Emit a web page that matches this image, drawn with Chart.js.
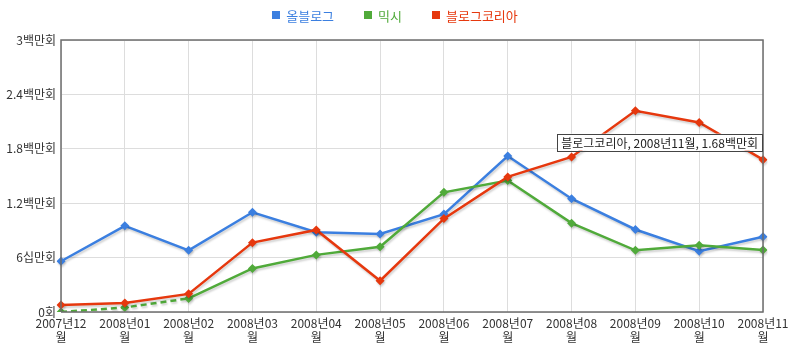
<!DOCTYPE html>
<html>
<head>
<meta charset="utf-8">
<script src="https://cdn.jsdelivr.net/npm/chart.js@4/dist/chart.umd.min.js"></script>
<style>
html,body{margin:0;padding:0;background:#fff;}
#wrap{width:790px;height:351px;position:relative;}
</style>
</head>
<body>
<div id="wrap"><canvas id="c" width="790" height="351"></canvas></div>
<script>
const categories = [
  ['2007년12','월'],['2008년01','월'],['2008년02','월'],['2008년03','월'],
  ['2008년04','월'],['2008년05','월'],['2008년06','월'],['2008년07','월'],
  ['2008년08','월'],['2008년09','월'],['2008년10','월'],['2008년11','월']
];
const seriesNames = ['올블로그','믹시','블로그코리아'];
const allblog   = [560000, 950000, 680000, 1100000, 880000, 860000, 1080000, 1720000, 1250000, 910000, 670000, 830000];
const mixsh     = [0, 50000, 150000, 480000, 630000, 720000, 1320000, 1450000, 980000, 680000, 735000, 685000];
const blogkorea = [77000, 100000, 200000, 765000, 905000, 345000, 1030000, 1490000, 1710000, 2220000, 2090000, 1680000];
const yTickValues = [0, 600000, 1200000, 1800000, 2400000, 3000000];
const yTickLabels = ['0회','6십만회','1.2백만회','1.8백만회','2.4백만회','3백만회'];
const tooltipText = '블로그코리아, 2008년11월, 1.68백만회';

const colors = ['#3b7fe0', '#50aa3a', '#e6380e'];
const FONT = '"Noto Sans CJK KR", "Noto Sans", sans-serif';

const shadowPlugin = {
  id: 'shadow',
  beforeDatasetsDraw(chart) {
    const ctx = chart.ctx;
    ctx.save();
    ctx.shadowColor = 'rgba(0,0,0,0.18)';
    ctx.shadowBlur = 2;
    ctx.shadowOffsetX = 1;
    ctx.shadowOffsetY = 2;
  },
  afterDatasetsDraw(chart) {
    chart.ctx.restore();
  }
};

const legendPlugin = {
  id: 'customLegend',
  afterDraw(chart) {
    const ctx = chart.ctx;
    ctx.save();
    ctx.font = '13px ' + FONT;
    const box = 8, gapBoxText = 6, gapItems = 30;
    const widths = chart.data.datasets.map(d => box + gapBoxText + ctx.measureText(d.label).width);
    const total = widths.reduce((a, b) => a + b, 0) + gapItems * (widths.length - 1);
    let x = 395 - total / 2;
    const cy = 15;
    ctx.textBaseline = 'middle';
    ctx.textAlign = 'left';
    chart.data.datasets.forEach((d, i) => {
      ctx.fillStyle = d.borderColor;
      ctx.fillRect(Math.round(x), cy - box / 2, box, box);
      ctx.fillText(d.label, x + box + gapBoxText, cy + 1);
      x += widths[i] + gapItems;
    });
    ctx.restore();
  }
};

const framePlugin = {
  id: 'frame',
  afterDraw(chart) {
    const {ctx, chartArea: a} = chart;
    ctx.save();
    ctx.strokeStyle = '#6e6e6e';
    ctx.lineWidth = 1.5;
    ctx.beginPath();
    ctx.moveTo(a.left, a.bottom);
    ctx.lineTo(a.left, a.top);
    ctx.lineTo(a.right, a.top);
    ctx.lineTo(a.right, a.bottom);
    ctx.lineTo(a.left, a.bottom);
    ctx.stroke();
    // static tooltip
    const pt = chart.getDatasetMeta(2).data[11];
    ctx.font = '12px ' + FONT;
    const w = ctx.measureText(tooltipText).width + 8;
    const h = 17;
    const right = pt.x - 1;
    const bottom = pt.y - 9;
    ctx.fillStyle = '#ffffff';
    ctx.fillRect(right - w, bottom - h, w, h);
    ctx.strokeStyle = '#444';
    ctx.lineWidth = 1;
    ctx.strokeRect(Math.round(right - w) + 0.5, Math.round(bottom - h) + 0.5, Math.round(w), h);
    ctx.fillStyle = '#222';
    ctx.textBaseline = 'middle';
    ctx.textAlign = 'left';
    ctx.fillText(tooltipText, right - w + 4, bottom - h / 2 + 1);
    ctx.restore();
  }
};

function ds(i, data, order) {
  return {
    label: seriesNames[i],
    data: data,
    borderColor: colors[i],
    backgroundColor: colors[i],
    borderWidth: 2.5,
    pointStyle: 'rectRot',
    pointRadius: 4.5,
    pointBorderWidth: 0,
    tension: 0,
    order: order,
    segment: i === 1 ? { borderDash: c => (c.p1DataIndex <= 2 ? [6, 4] : undefined) } : undefined
  };
}

new Chart(document.getElementById('c'), {
  type: 'line',
  data: {
    labels: categories,
    datasets: [ds(0, allblog, 3), ds(1, mixsh, 2), ds(2, blogkorea, 1)]
  },
  options: {
    responsive: false,
    animation: false,
    events: [],
    layout: { padding: { left: 0, right: 27, top: 40, bottom: 0 } },
    plugins: {
      tooltip: { enabled: false },
      legend: { display: false }
    },
    scales: {
      x: {
        offset: false,
        grid: { color: '#dddddd', drawTicks: false, lineWidth: 1 },
        border: { display: false },
        ticks: {
          font: { family: FONT, size: 12 }, color: '#333', padding: 4,
          maxRotation: 0, autoSkip: false
        },
        afterFit(s) { s.height = 39; s.paddingRight = 0; s.paddingLeft = 0; }
      },
      y: {
        min: 0, max: 3000000,
        afterBuildTicks(s) { s.ticks = yTickValues.map(v => ({ value: v })); },
        grid: { color: '#dddddd', drawTicks: false },
        border: { display: false },
        ticks: {
          font: { family: FONT, size: 12 }, color: '#333', padding: 5,
          callback: (v) => { const k = yTickValues.indexOf(v); return k >= 0 ? yTickLabels[k] : ''; }
        },
        afterFit(s) { s.width = 61; }
      }
    }
  },
  plugins: [shadowPlugin, legendPlugin, framePlugin]
});
</script>
</body>
</html>
